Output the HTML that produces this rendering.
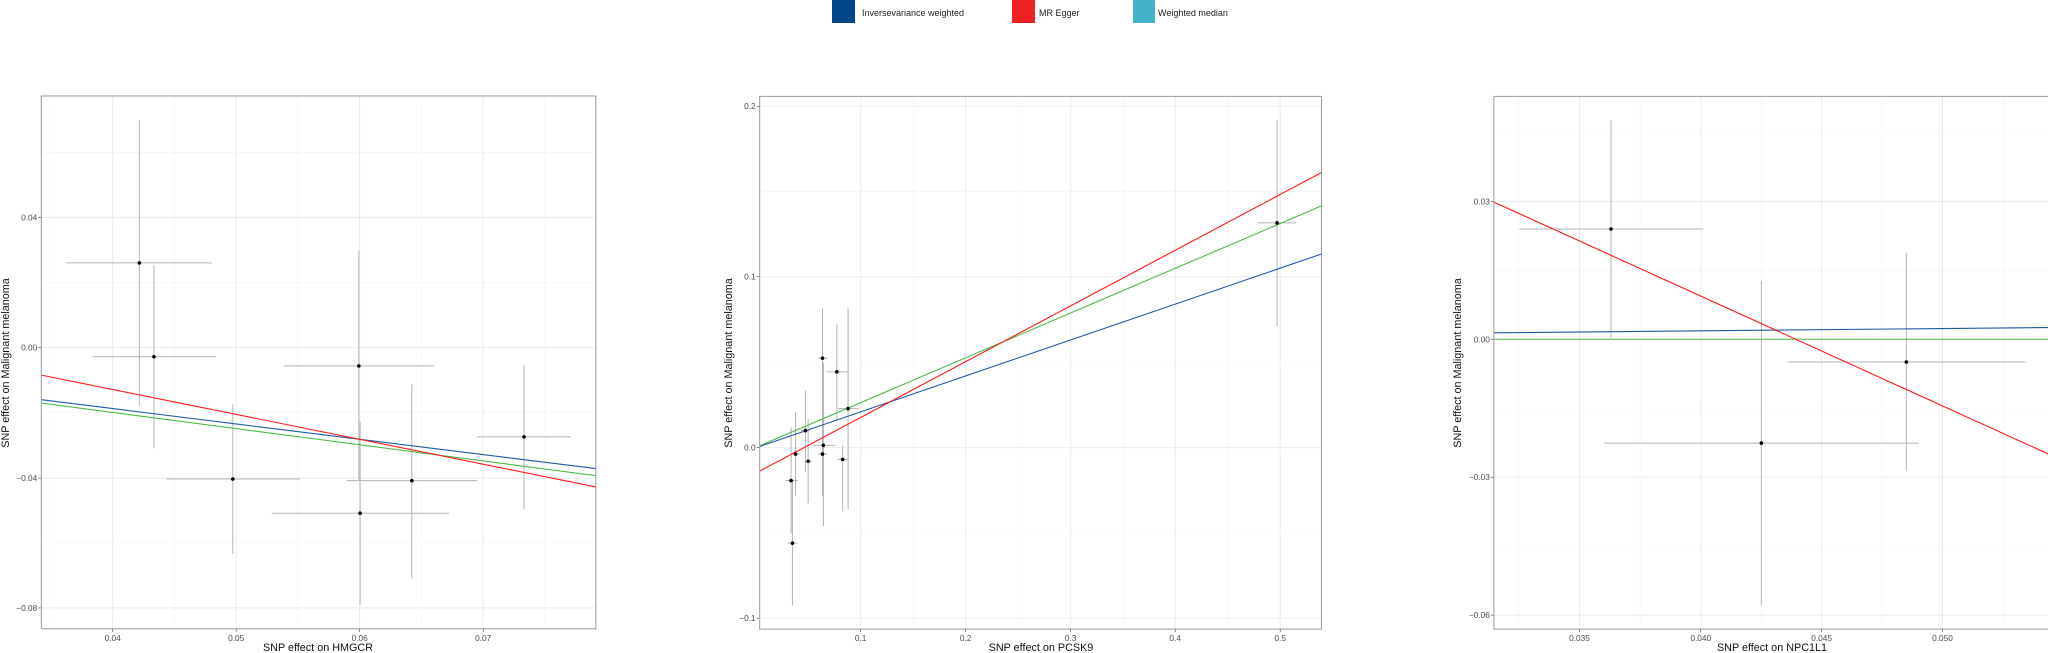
<!DOCTYPE html>
<html><head><meta charset="utf-8"><style>
html,body{margin:0;padding:0;background:#fff;}
svg{display:block;font-family:"Liberation Sans",sans-serif;}
</style></head><body>
<svg id="s" width="2048" height="653" xmlns="http://www.w3.org/2000/svg">
<rect width="2048" height="653" fill="#fff"/>
<g>
<rect x="832" y="0" width="23" height="23" fill="#00468B"/>
<text x="862" y="16" font-size="9" fill="#222">Inversevariance weighted</text>
<rect x="1012" y="0" width="23" height="23" fill="#ED2024"/>
<text x="1039" y="16" font-size="9" fill="#222">MR Egger</text>
<rect x="1133" y="0" width="22" height="23" fill="#42B3C8"/>
<text x="1158" y="16" font-size="9" fill="#222">Weighted median</text>
</g>
</svg>
<script>
var s=document.getElementById('s'),NS='http://www.w3.org/2000/svg';
function el(t,a,txt){var e=document.createElementNS(NS,t);for(var k in a)e.setAttribute(k,a[k]);if(txt!==undefined)e.textContent=txt;s.appendChild(e);return e;}
function panel(p){
 var M=function(x,y){return [p.ox+x*p.sx,p.oy+y*p.sy];};
 var L=M(p.box[0],p.box[1]),R=M(p.box[2],p.box[3]);
 var x0=L[0],y0=L[1],x1=R[0],y1=R[1];
 p.minx.forEach(function(v){var X=M(v,0)[0];el('line',{x1:X,x2:X,y1:y0,y2:y1,stroke:'#f4f4f4','stroke-width':0.6});});
 p.miny.forEach(function(v){var Y=M(0,v)[1];el('line',{x1:x0,x2:x1,y1:Y,y2:Y,stroke:'#f4f4f4','stroke-width':0.6});});
 p.xt.forEach(function(t){var X=M(t[0],0)[0];el('line',{x1:X,x2:X,y1:y0,y2:y1,stroke:'#ebebeb','stroke-width':1});
  el('line',{x1:X,x2:X,y1:y1,y2:y1+3,stroke:'#333','stroke-width':0.6});
  el('text',{x:X,y:y1+12,'font-size':8.3,fill:'#4d4d4d','text-anchor':'middle'},t[1]);});
 p.yt.forEach(function(t){var Y=M(0,t[0])[1];el('line',{x1:x0,x2:x1,y1:Y,y2:Y,stroke:'#ebebeb','stroke-width':1});
  el('line',{x1:x0-3,x2:x0,y1:Y,y2:Y,stroke:'#333','stroke-width':0.6});
  el('text',{x:x0-4,y:Y+3,'font-size':8.3,fill:'#4d4d4d','text-anchor':'end'},t[1]);});
 p.pts.forEach(function(q){
  var a=M(q[2],q[1]),b=M(q[3],q[1]);el('line',{x1:a[0],y1:a[1],x2:b[0],y2:b[1],stroke:'#b3b3b3','stroke-width':1});
  a=M(q[0],q[4]);b=M(q[0],q[5]);el('line',{x1:a[0],y1:a[1],x2:b[0],y2:b[1],stroke:'#b3b3b3','stroke-width':1});});
 [['blue','#1f5aa6'],['green','#4dbb4a'],['red','#ff1a1a']].forEach(function(c){var l=p.lines[c[0]];
  var a=M(p.box[0],l[0]),b=M(p.box[2],l[1]);
  el('line',{x1:a[0],y1:a[1],x2:b[0],y2:b[1],stroke:c[1],'stroke-width':1.1});});
 p.pts.forEach(function(q){var a=M(q[0],q[1]);el('circle',{cx:a[0],cy:a[1],r:1.8,fill:'#000'});});
 el('rect',{x:x0,y:y0,width:x1-x0,height:y1-y0,fill:'none',stroke:'#999','stroke-width':1});
 el('text',{x:p.xl,y:651,'font-size':10.8,fill:'#111','text-anchor':'middle'},p.xlab);
 el('text',{x:0,y:0,'font-size':10.8,fill:'#111','text-anchor':'middle',transform:'translate('+p.yl+',363) rotate(-90)'},'SNP effect on Malignant melanoma');
}
var k=653/1565;
panel({ox:0,oy:0,sx:k,sy:k,box:[99,230,1428,1507],
 xt:[[270,'0.04'],[566,'0.05'],[862,'0.06'],[1158,'0.07']],minx:[122,418,714,1010,1306],
 yt:[[521,'0.04'],[833,'0.00'],[1146,'\u22120.04'],[1457,'\u22120.08']],miny:[365,677,989,1301],
 pts:[[334,630,159,508,288,972],[369,855,222,518,636,1075],[558,1148,399,719,969,1327],[860,877,680,1041,601,1150],[863,1230,651,1076,1011,1450],[987,1152,831,1143,921,1385],[1256,1047,1143,1368,874,1220]],
 lines:{red:[899,1167],blue:[958,1123],green:[966,1140]},xl:318,xlab:'SNP effect on HMGCR',yl:9});
panel({ox:700,oy:60,sx:700/1560,sy:593/1565,box:[133,96,1385,1502],
 xt:[[358,'0.1'],[592,'0.2'],[826,'0.3'],[1059,'0.4'],[1293,'0.5']],minx:[475,709,943,1176],
 yt:[[122,'0.2'],[572,'0.1'],[1023,'0.0'],[1473,'\u22120.1']],miny:[347,797,1248],
 pts:[[273,787,262,284,655,920],[305,823,282,330,698,950],[330,920,307,354,655,1186],[235,978,225,245,872,1087],[213,1040,205,222,929,1150],[275,1017,250,302,800,1230],[273,1040,262,284,900,1150],[241,1059,232,250,948,1170],[318,1054,307,330,1017,1192],[203,1110,190,218,970,1250],[206,1275,195,218,1110,1440],[1286,430,1243,1328,158,702]],
 lines:{red:[1085,297],blue:[1020,512],green:[1018,385]},xl:1041,xlab:'SNP effect on PCSK9',yl:732});
panel({ox:1400,oy:60,sx:648/1560,sy:593/1565,box:[226,96,1565,1502],
 xt:[[432,'0.035'],[724,'0.040'],[1015,'0.045'],[1306,'0.050']],minx:[286,578,870,1160,1452],
 yt:[[373,'0.03'],[737,'0.00'],[1101,'\u22120.03'],[1465,'\u22120.06']],miny:[191,555,919,1283],
 pts:[[508,446,287,730,158,733],[870,1011,491,1249,583,1438],[1219,797,933,1505,509,1085]],
 lines:{red:[375,1042],blue:[720,706],green:[737,737]},xl:1772,xlab:'SNP effect on NPC1L1',yl:1461});
</script>
</body></html>
